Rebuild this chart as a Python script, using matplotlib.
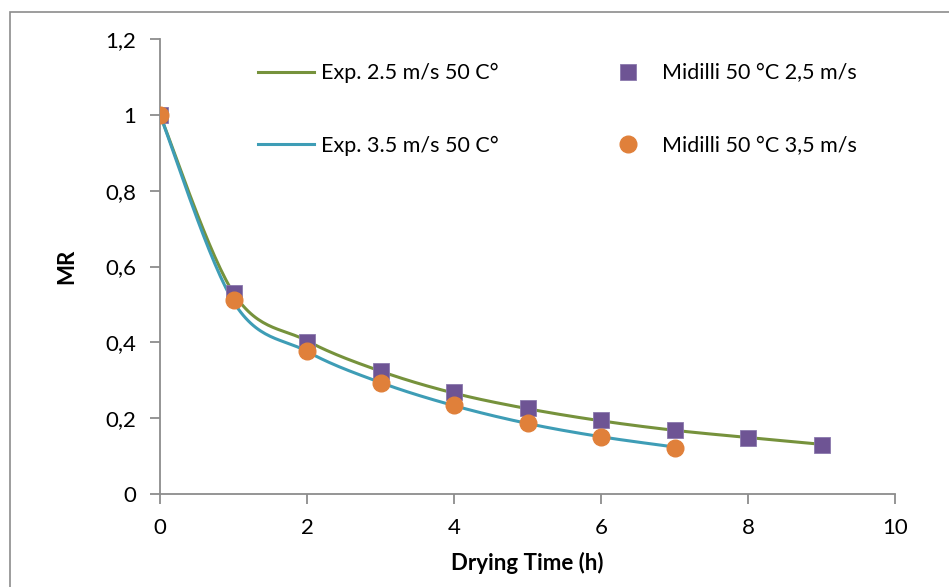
import numpy as np
import matplotlib
matplotlib.use("Agg")
import matplotlib.pyplot as plt
from matplotlib.patches import Rectangle
from matplotlib.ticker import FuncFormatter

# ---- data ----
t_25 = [0, 1, 2, 3, 4, 5, 6, 7, 8, 9]
t_35 = [0, 1, 2, 3, 4, 5, 6, 7]
exp_25 = [1.0, 0.53, 0.404, 0.324, 0.266, 0.225, 0.193, 0.168, 0.149, 0.131]
exp_35 = [1.0, 0.507, 0.376, 0.294, 0.233, 0.186, 0.151, 0.124]
mid_25 = [1.0, 0.531, 0.401, 0.325, 0.269, 0.227, 0.195, 0.169, 0.148, 0.129]
mid_35 = [1.0, 0.512, 0.377, 0.293, 0.235, 0.187, 0.150, 0.121]

labels = ["Exp. 2.5 m/s 50 C°", "Exp. 3.5 m/s 50 C°",
          "Midilli 50 °C 2,5 m/s", "Midilli 50 °C 3,5 m/s"]

c_green = "#76923C"
c_blue = "#3E9DB6"
c_purple = "#6E5494"
c_orange = "#E0803A"


def smooth(x, y, n=30):
    """Excel-like smoothed line (Catmull-Rom Bezier)."""
    x = np.asarray(x, float)
    y = np.asarray(y, float)
    P = np.column_stack([x, y])
    out = []
    m = len(P)
    for i in range(m - 1):
        p0 = P[i - 1] if i > 0 else P[i]
        p1 = P[i]
        p2 = P[i + 1]
        p3 = P[i + 2] if i + 2 < m else P[i + 1]
        c1 = p1 + (p2 - p0) / 6.0
        c2 = p2 - (p3 - p1) / 6.0
        s = np.linspace(0, 1, n, endpoint=(i == m - 2))[:, None]
        seg = ((1 - s) ** 3) * p1 + 3 * ((1 - s) ** 2) * s * c1 + 3 * (1 - s) * s ** 2 * c2 + s ** 3 * p2
        out.append(seg)
    out = np.vstack(out)
    return out[:, 0], out[:, 1]


plt.rcParams["font.family"] = ["Lato", "DejaVu Sans"]
FS = 16
LFS = 15.5

fig = plt.figure(figsize=(9.49, 5.87), dpi=100)
ax = fig.add_axes([160 / 949, 1 - 494 / 587, (895 - 160) / 949, (494 - 39) / 587])

gx, gy = smooth(t_25, exp_25)
bx, by = smooth(t_35, exp_35)
l1, = ax.plot(gx, gy, color=c_green, lw=2.2, label=labels[0], zorder=2)
l2, = ax.plot(bx, by, color=c_blue, lw=2.2, label=labels[1], zorder=2)
s1, = ax.plot(t_25, mid_25, ls="none", marker="s", ms=11.5, color=c_purple,
              mec="#8a78ad", mew=0.6, label=labels[2], zorder=3)
s2, = ax.plot(t_35, mid_35, ls="none", marker="o", ms=12, color=c_orange,
              mec=c_orange, label=labels[3], zorder=4)

ax.set_xlim(0, 10)
ax.set_ylim(0, 1.2)
ax.set_xticks(np.arange(0, 11, 2))
ax.set_yticks(np.arange(0, 1.21, 0.2))
fmt = FuncFormatter(lambda v, p: ("%g" % round(v, 2)).replace(".", ","))
ax.yaxis.set_major_formatter(fmt)
ax.xaxis.set_major_formatter(fmt)

for s in ["top", "right"]:
    ax.spines[s].set_visible(False)
for s in ["left", "bottom"]:
    ax.spines[s].set_color("#8c8c8c")
    ax.spines[s].set_linewidth(1.3)
ax.tick_params(axis="both", direction="out", length=7, width=1.3, color="#8c8c8c",
               labelsize=FS, labelcolor="black", pad=10)

ax.set_xlabel("Drying Time (h)", fontsize=FS, fontweight="bold", labelpad=10)
ax.set_ylabel("MR", fontsize=FS, fontweight="bold", labelpad=20)

leg = ax.legend(handles=[l1, l2, s1, s2], ncol=2, loc="upper left",
                bbox_to_anchor=(0.1075, 0.99), frameon=False, fontsize=LFS,
                labelspacing=2.45, columnspacing=4.7, handlelength=2.6,
                handletextpad=0.3)

fig.patches.append(Rectangle((9.5 / 949, -0.01), 1.0, 1 - 11.5 / 587 + 0.01,
                             transform=fig.transFigure, fill=False,
                             edgecolor="#8c8c8c", lw=1.2))

fig.savefig("out.png", dpi=100)
